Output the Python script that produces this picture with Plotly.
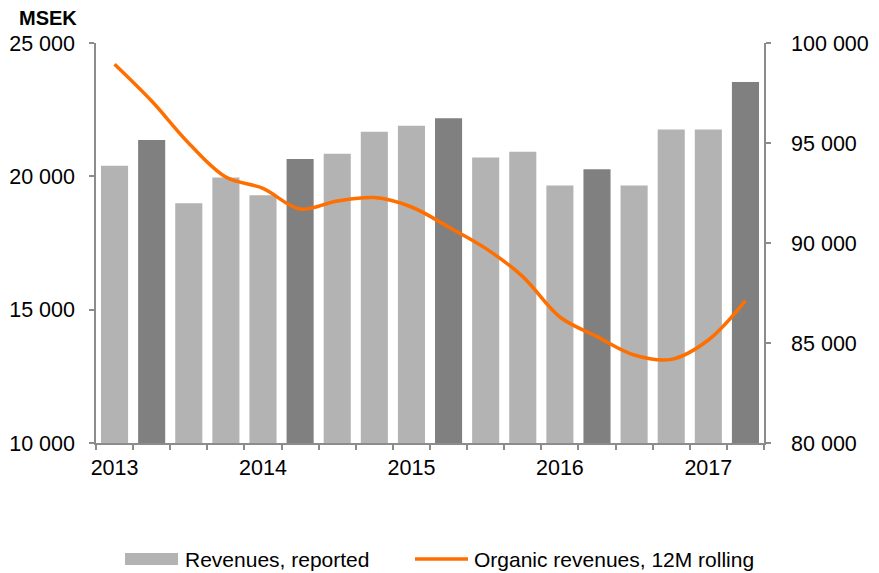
import plotly.graph_objects as go

quarters = ["Q1 2013", "Q2 2013", "Q3 2013", "Q4 2013",
            "Q1 2014", "Q2 2014", "Q3 2014", "Q4 2014",
            "Q1 2015", "Q2 2015", "Q3 2015", "Q4 2015",
            "Q1 2016", "Q2 2016", "Q3 2016", "Q4 2016",
            "Q1 2017", "Q2 2017"]
revenues_reported = [20400, 21360, 18990, 19960, 19290, 20650, 20850, 21670, 21900,
                     22180, 20710, 20920, 19660, 20270, 19660, 21760, 21760, 23540]
organic_12m = [98940, 97100, 94990, 93300, 92730, 91700, 92100, 92270, 91800,
               90800, 89730, 88320, 86300, 85320, 84400, 84180, 85150, 87120]
year_labels = [q.split()[1] if q.startswith("Q1") else "" for q in quarters]

LIGHT = "#B3B3B3"
DARK = "#808080"
ORANGE = "#FF6F00"
AXIS = "#8C8C8C"
FONT = "Liberation Sans, Arial, sans-serif"

bar_colors = [DARK if q.startswith("Q2") else LIGHT for q in quarters]

fig = go.Figure()
fig.add_trace(go.Bar(
    x=quarters, y=revenues_reported, name="Revenues, reported",
    marker=dict(color=bar_colors, line=dict(width=0)),
    width=0.73, showlegend=False,
))
fig.add_trace(go.Scatter(
    x=quarters, y=organic_12m, name="Organic revenues, 12M rolling",
    yaxis="y2", mode="lines",
    line=dict(color=ORANGE, width=3.5, shape="spline", smoothing=1.0),
    showlegend=False,
))

# page body has an 8px default margin; plot area in absolute page pixels:
OFF = 8
W, H = 879 - OFF, 573 - OFF
PL, PR, PT, PB = 96, 764, 43, 443  # absolute plot-area edges
pw, ph = PR - PL, PB - PT

def px(xp):
    return (xp - PL) / pw

def py(yp):
    return (PB - yp) / ph

shapes = [
    dict(type="rect", xref="paper", yref="paper",
         x0=px(125), x1=px(178), y0=py(565), y1=py(553),
         fillcolor=LIGHT, line=dict(width=0)),
    dict(type="line", xref="paper", yref="paper",
         x0=px(415), x1=px(468), y0=py(559), y1=py(559),
         line=dict(color=ORANGE, width=3.5)),
]
annotations = [
    dict(text="<b>MSEK</b>", xref="paper", yref="paper", x=px(48), y=py(18),
         xanchor="center", yanchor="middle", showarrow=False,
         font=dict(size=20, color="#000000", family=FONT)),
    dict(text="Revenues, reported", xref="paper", yref="paper", x=px(183), y=py(559),
         xanchor="left", yanchor="middle", showarrow=False,
         font=dict(size=21, color="#000000", family=FONT)),
    dict(text="Organic revenues, 12M rolling", xref="paper", yref="paper", x=px(472), y=py(559),
         xanchor="left", yanchor="middle", showarrow=False,
         font=dict(size=21, color="#000000", family=FONT)),
]

fig.update_layout(
    width=W, height=H,
    margin=dict(l=PL - OFF, r=W - (PR - OFF), t=PT - OFF, b=H - (PB - OFF),
                pad=0, autoexpand=False),
    paper_bgcolor="white", plot_bgcolor="white",
    separators=", ",
    bargap=0.27,
    font=dict(family=FONT, size=21.5, color="#000000"),
    xaxis=dict(
        type="category", categoryorder="array", categoryarray=quarters,
        tickvals=quarters, ticktext=year_labels, tickangle=0, automargin=False,
        tickson="boundaries", ticks="outside", ticklen=5, tickcolor=AXIS, tickwidth=1.5,
        showline=True, linecolor=AXIS, linewidth=1.5,
        showgrid=False, zeroline=False, ticklabelstandoff=4,
        range=[-0.5, len(quarters) - 0.5],
    ),
    yaxis=dict(
        range=[10000, 25000], dtick=5000, tick0=10000, tickformat=",d",
        ticks="outside", ticklen=5, tickcolor=AXIS, tickwidth=1.5, automargin=False,
        showline=True, linecolor=AXIS, linewidth=1.5,
        showgrid=False, zeroline=False, ticklabelstandoff=10,
    ),
    yaxis2=dict(
        overlaying="y", side="right",
        range=[80000, 100000], dtick=5000, tick0=80000, tickformat=",d",
        ticks="outside", ticklen=5, tickcolor=AXIS, tickwidth=1.5, automargin=False,
        showline=True, linecolor=AXIS, linewidth=1.5,
        showgrid=False, zeroline=False, ticklabelstandoff=16,
    ),
    shapes=shapes,
    annotations=annotations,
)

fig.write_html("out.html")
